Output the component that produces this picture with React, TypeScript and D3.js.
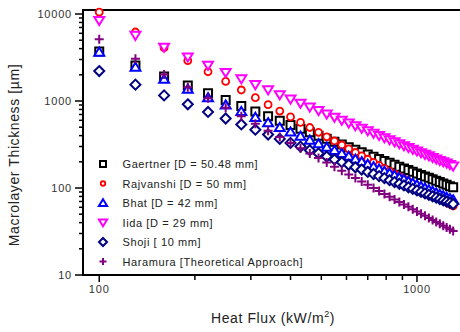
import React from 'react';
import * as d3 from 'd3';

// heat flux (kW/m2), one point every 30
const heatFlux = [100, 130, 160, 190, 220, 250, 280, 310, 340, 370, 400, 430, 460, 490, 520, 550, 580, 610, 640, 670, 700,
  730, 760, 790, 820, 850, 880, 910, 940, 970, 1000, 1030, 1060, 1090, 1120, 1150, 1180, 1210, 1240, 1270, 1300];

// macrolayer thickness (um)
const gaertner = [3700, 2563, 1916, 1506, 1227, 1026, 875, 759, 667, 593, 531, 480, 437, 400, 368, 340, 316, 294, 275, 258, 243,
  229, 216, 205, 195, 185, 176, 168, 161, 154, 147, 141, 136, 131, 126, 121, 117, 113, 109, 105, 102];
const rajvanshi = [10500, 6213, 4102, 2909, 2169, 1680, 1339, 1093, 908, 767, 656, 568, 496, 437, 388, 347, 312, 282, 256, 234, 214,
  197, 182, 168, 156, 145, 136, 127, 119, 111, 105, 99, 93.5, 88.4, 83.7, 79.4, 75.4, 71.7, 68.3, 65.1, 62.2];
const bhat = [3650, 2446, 1782, 1371, 1096, 903, 759, 650, 565, 496, 441, 395, 356, 323, 295, 271, 250, 232, 215, 201, 188,
  176, 166, 156, 148, 140, 132, 126, 120, 114, 109, 104, 100, 95.6, 91.7, 88, 84.6, 81.5, 78.4, 75.6, 73];
const iida = [8400, 5667, 4150, 3207, 2574, 2125, 1793, 1539, 1340, 1180, 1050, 942, 851, 774, 708, 651, 601, 558, 519, 485, 454,
  426, 401, 378, 358, 339, 322, 306, 292, 278, 266, 254, 243, 234, 224, 215, 207, 200, 193, 186, 179];
const shoji = [2210, 1542, 1160, 916, 749, 629, 538, 468, 412, 367, 330, 299, 272, 250, 230, 213, 198, 185, 173, 163, 153,
  145, 137, 130, 123, 117, 112, 107, 102, 97.8, 93.9, 90.2, 86.7, 83.4, 80.3, 77.5, 74.8, 72.3, 69.9, 67.6, 65.5];
const haramura = [5130, 3051, 2023, 1439, 1077, 836, 668, 546, 455, 385, 330, 286, 250, 221, 196, 175, 158, 143, 130, 119, 109,
  100, 92.4, 85.6, 79.5, 74, 69.1, 64.7, 60.7, 57, 53.7, 50.7, 47.9, 45.3, 42.9, 40.7, 38.7, 36.8, 35.1, 33.5, 32];

const legendLabels = [
  'Gaertner [D = 50.48 mm]',
  'Rajvanshi [D = 50 mm]',
  'Bhat [D = 42 mm]',
  'Iida [D = 29 mm]',
  'Shoji [ 10 mm]',
  'Haramura [Theoretical Approach]',
];
const colors = ['#000000', '#ff0000', '#0000ff', '#ff00ff', '#000080', '#800080'];
const shapes = ['square', 'circle', 'triUp', 'triDown', 'diamond', 'plus'];
const allSeries = [gaertner, rajvanshi, bhat, iida, shoji, haramura];

const xMajor = [100, 1000];
const yMajor = [10, 100, 1000, 10000];

const W = 460, H = 332;
const left = 83, top = 10, bottom = 275, right = 460;
const font = '"Liberation Sans", Arial, sans-serif';

const x = d3.scaleLog().domain([88.9, 1366]).range([left, right]);
const y = d3.scaleLog().domain([10, 11120]).range([bottom, top]);

function markerPath(shape: string, s: number) {
  const h = s / 2;
  switch (shape) {
    case 'square':
      return `M${-h},${-h}H${h}V${h}H${-h}Z`;
    case 'circle':
      return `M${h},0A${h},${h} 0 1,1 ${-h},0A${h},${h} 0 1,1 ${h},0Z`;
    case 'triUp':
      return `M0,${-h}L${h * 1.1},${h * 0.8}L${-h * 1.1},${h * 0.8}Z`;
    case 'triDown':
      return `M0,${h}L${h * 1.1},${-h * 0.8}L${-h * 1.1},${-h * 0.8}Z`;
    case 'diamond':
      return `M0,${-h}L${h},0L0,${h}L${-h},0Z`;
    default:
      return `M${-h},0H${h}M0,${-h}V${h}`;
  }
}

const plotSize: Record<string, number> = { square: 8, circle: 7, triUp: 9, triDown: 9, diamond: 10, plus: 9 };
const legendSize: Record<string, number> = { square: 6, circle: 4.5, triUp: 7.5, triDown: 7.5, diamond: 8, plus: 7 };

const Marker = ({ shape, size, color, cx, cy }: any) => (
  <path
    d={markerPath(shape, size)}
    transform={`translate(${cx},${cy})`}
    fill={shape === 'plus' ? 'none' : '#ffffff'}
    stroke={color}
    strokeWidth={shape === 'circle' ? 1.8 : 2}
  />
);

export default function App() {
  const isMajor = (v: number) => Math.abs(Math.log10(v) - Math.round(Math.log10(v))) < 1e-6;
  const xTicks = x.ticks().filter(t => t >= 100);
  const yTicks = y.ticks();

  const legendX = 103, legendY = 164, legendStep = 19.5;

  return (
    <svg width={W} height={H} style={{ position: 'absolute', left: 0, top: 0, background: '#fff' }}>
      {/* frame */}
      <line x1={left} x2={right} y1={top} y2={top} stroke="#000" strokeWidth={2} />
      <line x1={left} x2={left} y1={top - 1} y2={bottom + 1} stroke="#000" strokeWidth={2} />
      <line x1={left - 1} x2={right} y1={bottom} y2={bottom} stroke="#000" strokeWidth={2} />

      {/* y ticks */}
      {yTicks.map((t, i) => (
        <line key={'yt' + i} x1={left - (isMajor(t) ? 8 : 4)} x2={left} y1={y(t)} y2={y(t)} stroke="#000" strokeWidth={1.5} />
      ))}
      {yMajor.map(t => (
        <text key={'yl' + t} x={72} y={y(t) + 4} textAnchor="end" fontFamily={font} fontSize={11} letterSpacing={0.8} fill="#333">
          {t}
        </text>
      ))}

      {/* x ticks */}
      {xTicks.map((t, i) => (
        <line key={'xt' + i} x1={x(t)} x2={x(t)} y1={bottom} y2={bottom + (isMajor(t) ? 7 : 5)} stroke="#000" strokeWidth={1.5} />
      ))}
      {xMajor.map(t => (
        <text key={'xl' + t} x={x(t)} y={293} textAnchor="middle" fontFamily={font} fontSize={11} letterSpacing={0.8} fill="#333">
          {t}
        </text>
      ))}

      {/* titles */}
      <text x={273} y={323} textAnchor="middle" fontFamily={font} fontSize={14} letterSpacing={0.6} fill="#222">
        Heat Flux (kW/m<tspan dy={-6} fontSize={9}>2</tspan><tspan dy={6}>)</tspan>
      </text>
      <text
        transform={`translate(19,155) rotate(-90)`}
        textAnchor="middle"
        fontFamily={font}
        fontSize={14}
        letterSpacing={0.6}
        fill="#222"
      >
        Macrolayer Thickness [µm]
      </text>

      {/* data */}
      {allSeries.map((series, si) => (
        <g key={'s' + si}>
          {series.map((v, i) => (
            <Marker key={i} shape={shapes[si]} size={plotSize[shapes[si]]} color={colors[si]} cx={x(heatFlux[i])} cy={y(v)} />
          ))}
        </g>
      ))}

      {/* legend */}
      {legendLabels.map((label, i) => (
        <g key={'lg' + i}>
          <Marker shape={shapes[i]} size={legendSize[shapes[i]]} color={colors[i]} cx={legendX} cy={legendY + i * legendStep} />
          <text x={122.5} y={legendY + i * legendStep + 4} fontFamily={font} fontSize={11} letterSpacing={0.6} fill="#222">
            {label}
          </text>
        </g>
      ))}
    </svg>
  );
}
